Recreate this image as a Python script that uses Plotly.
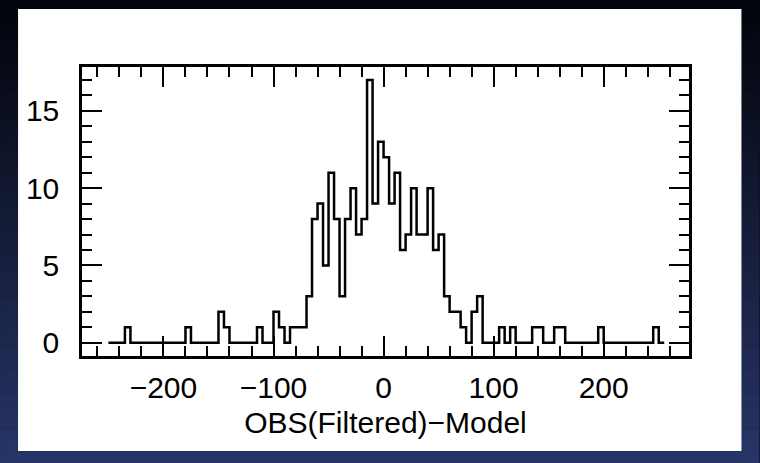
import numpy as np
import plotly.graph_objects as go

# Histogram of residuals: bins of width 5 starting at -250
bin_start = -250
bin_width = 5
counts = [
    0, 0, 0, 1, 0, 0, 0, 0, 0, 0,      # -250 .. -205
    0, 0, 0, 0, 1, 0, 0, 0, 0, 0,      # -200 .. -155
    2, 1, 0, 0, 0, 0, 0, 1, 0, 0,      # -150 .. -105
    2, 1, 0, 1, 1, 1, 3, 8, 9, 5,      # -100 .. -55
    11, 8, 3, 8, 10, 7, 8, 17, 9, 13,  # -50 .. -5
    12, 9, 11, 6, 7, 10, 7, 7, 10, 6,  # 0 .. 45
    7, 3, 2, 2, 1, 0, 2, 3, 0, 0,      # 50 .. 95
    0, 1, 0, 1, 0, 0, 0, 1, 1, 0,      # 100 .. 145
    0, 1, 1, 0, 0, 0, 0, 0, 0, 1,      # 150 .. 195
    0, 0, 0, 0, 0, 0, 0, 0, 0, 1,      # 200 .. 245
    0,                                 # 250
]
x_ticks = [-200, -100, 0, 100, 200]
x_tick_text = ["\u2212200", "\u2212100", "0", "100", "200"]
y_ticks = [0, 5, 10, 15]
y_tick_text = ["0", "5", "10", "15"]
x_title = "OBS(Filtered)\u2212Model"

edges = bin_start + bin_width * np.arange(len(counts) + 1)
step_y = counts + [counts[-1]]

W, H = 760, 463
ML, MR, MT, MB = 82, 70.5, 67, 107
PW, PH = W - ML - MR, H - MT - MB


def px(xpix):
    return (xpix - ML) / PW


def py(ypix):
    return (H - MB - ypix) / PH


shapes = []
# dark blue backdrop, darker towards the top
n_bands = 40
c_top = np.array([2, 4, 10])
c_bot = np.array([40, 54, 104])
for i in range(n_bands):
    f = (i + 0.5) / n_bands
    c = (c_top * (1 - f) + c_bot * f).astype(int)
    shapes.append(dict(
        type="rect", xref="paper", yref="paper", layer="below",
        x0=px(0), x1=px(W), y0=py(H * i / n_bands), y1=py(H * (i + 1) / n_bands) - 0.001,
        fillcolor=f"rgb({c[0]},{c[1]},{c[2]})", line=dict(width=0),
    ))
# white panel
shapes.append(dict(
    type="rect", xref="paper", yref="paper", layer="below",
    x0=px(18), x1=px(742), y0=py(9), y1=py(451),
    fillcolor="white", line=dict(width=0),
))

fig = go.Figure()
fig.add_trace(go.Scatter(
    x=edges, y=step_y, mode="lines", line_shape="hv",
    line=dict(color="black", width=2.5), hoverinfo="skip", showlegend=False,
))

font = dict(family="Liberation Sans, Arial, sans-serif", size=30, color="black")

fig.update_layout(
    width=W, height=H,
    margin=dict(l=ML, r=MR, t=MT, b=MB, pad=0),
    paper_bgcolor="rgb(10,14,30)",
    plot_bgcolor="white",
    shapes=shapes,
    font=font,
    xaxis=dict(
        range=[-274, 277.5], showgrid=False, zeroline=False,
        showline=True, linecolor="black", linewidth=2.5, mirror="ticks",
        ticks="inside", ticklen=20, tickwidth=2, tickcolor="black",
        tickvals=x_ticks, ticktext=x_tick_text, ticklabelstandoff=3,
        minor=dict(dtick=20, tick0=0, ticks="inside", ticklen=10, tickwidth=2, tickcolor="black", showgrid=False),
        title=dict(text=x_title, font=font, standoff=10),
        tickfont=font,
    ),
    yaxis=dict(
        range=[-0.86, 17.84], showgrid=False, zeroline=False,
        showline=True, linecolor="black", linewidth=2.5, mirror="ticks",
        ticks="inside", ticklen=20, tickwidth=2, tickcolor="black",
        tickvals=y_ticks, ticktext=y_tick_text, ticklabelstandoff=14,
        minor=dict(dtick=1, tick0=0, ticks="inside", ticklen=10, tickwidth=2, tickcolor="black", showgrid=False),
        tickfont=font,
    ),
)

fig.write_html("out.html")
